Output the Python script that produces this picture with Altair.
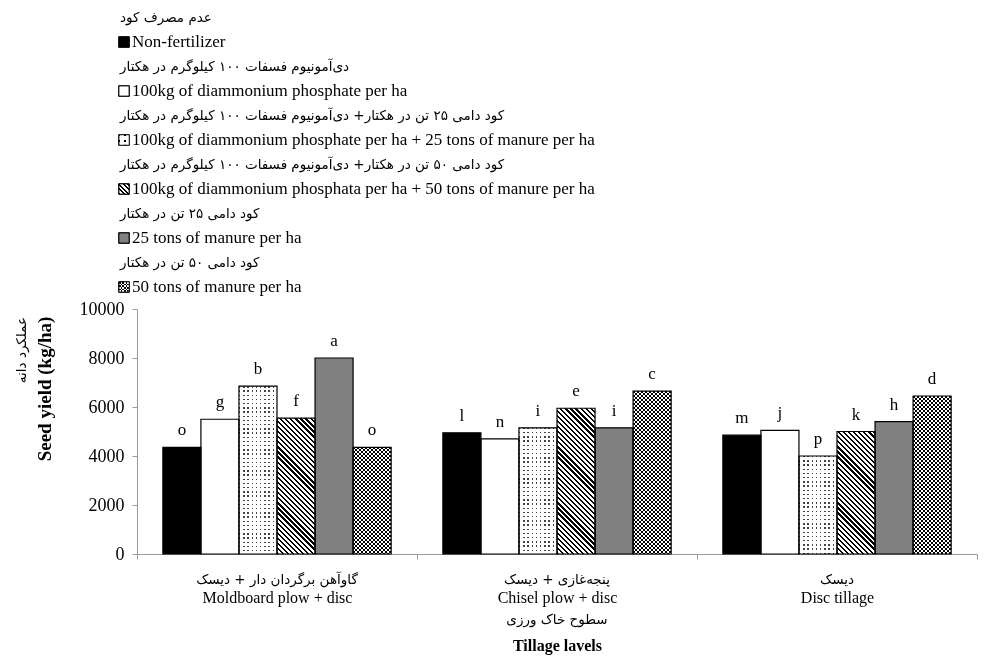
import math
import altair as alt

# ---------------- data ----------------
categories = ["Moldboard plow + disc", "Chisel plow + disc", "Disc tillage"]
categories_fa = ["گاوآهن برگردان دار + دیسک", "پنجه‌غازی + دیسک", "دیسک"]

treatments = [
    "Non-fertilizer",
    "100kg of diammonium phosphate per ha",
    "100kg of diammonium phosphate per ha + 25 tons of manure per ha",
    "100kg of diammonium phosphata per ha + 50 tons of manure per ha",
    "25 tons of manure per ha",
    "50 tons of manure per ha",
]
treatments_fa = [
    "عدم مصرف کود",
    "دی‌آمونیوم فسفات ۱۰۰ کیلوگرم در هکتار",
    "کود دامی ۲۵ تن در هکتار+ دی‌آمونیوم فسفات ۱۰۰ کیلوگرم در هکتار",
    "کود دامی ۵۰ تن در هکتار+ دی‌آمونیوم فسفات ۱۰۰ کیلوگرم در هکتار",
    "کود دامی ۲۵ تن در هکتار",
    "کود دامی ۵۰ تن در هکتار",
]

yield_moldboard = [4350, 5500, 6850, 5550, 8000, 4350]
yield_chisel = [4950, 4700, 5150, 5950, 5150, 6650]
yield_disc = [4850, 5050, 4000, 5000, 5400, 6450]

letters_moldboard = ["o", "g", "b", "f", "a", "o"]
letters_chisel = ["l", "n", "i", "e", "i", "c"]
letters_disc = ["m", "j", "p", "k", "h", "d"]

y_ticks = [0, 2000, 4000, 6000, 8000, 10000]

# ---------------- styling ----------------
PLOT_W = 840
PLOT_H = 245
Y_MAX = 10000
OUTER = 0.68
BAR_W = PLOT_W / 3 / (6 + 2 * OUTER)
SYM = 10.5
SERIF = "Liberation Serif"
FA_FONT = "DejaVu Sans"
FA_SIZE = 13.5


def stripe_stops(length_px, period, frac, dark, light):
    n = max(length_px / period, 1.0)
    stops = []
    k = 0
    while k / n < 1:
        a = round(k / n, 5)
        b = round(min((k + frac) / n, 1.0), 5)
        c = round(min((k + 1) / n, 1.0), 5)
        stops += [
            {"offset": a, "color": dark},
            {"offset": b, "color": dark},
            {"offset": b, "color": light},
            {"offset": c, "color": light},
        ]
        k += 1
    return stops


def horiz_lines(h, period, frac, dark="#000000", light="#ffffff"):
    return {"gradient": "linear", "x1": 0, "y1": 0, "x2": 0, "y2": 1,
            "stops": stripe_stops(h, period, frac, dark, light)}


def vert_lines(w, period, frac, dark="#000000", light="#ffffff"):
    return {"gradient": "linear", "x1": 0, "y1": 0, "x2": 1, "y2": 0,
            "stops": stripe_stops(w, period, frac, dark, light)}


def diag_lines(w, h, period, frac, dark="#000000", light="#ffffff"):
    s = (w + h) / (w * w + h * h)
    return {"gradient": "linear", "x1": 0, "y1": 1,
            "x2": round(s * w, 5), "y2": round(1 - s * h, 5),
            "stops": stripe_stops((w + h) / math.sqrt(2), period, frac, dark, light)}


def fills(ti, w, h):
    if ti == 0:
        return "#000000", None
    if ti == 1:
        return "#ffffff", None
    if ti == 2:  # dotted
        return (horiz_lines(h, 4.2, 0.32, "#444444", "#ffffff"),
                vert_lines(w, 4.2, 0.32, "#444444", "#ffffff"))
    if ti == 3:  # diagonal hatch
        return diag_lines(w, h, 3.6, 0.45), None
    if ti == 4:
        return "#808080", None
    # checker
    return horiz_lines(h, 4, 0.5), vert_lines(w, 4, 0.5)


bar_rows = []
for cat, vals, lets in zip(categories,
                           [yield_moldboard, yield_chisel, yield_disc],
                           [letters_moldboard, letters_chisel, letters_disc]):
    for ti, t in enumerate(treatments):
        v = vals[ti]
        fa, fb = fills(ti, BAR_W, v * PLOT_H / Y_MAX)
        bar_rows.append({"category": cat, "treatment": t, "t_index": ti,
                         "value": v, "letter": lets[ti], "fa": fa, "fb": fb})

leg_rows = []
for ti, (t, tfa) in enumerate(zip(treatments, treatments_fa)):
    if ti == 2:
        sa, sb = horiz_lines(SYM, 5.25, 0.3), vert_lines(SYM, 5.25, 0.3)
    elif ti == 3:
        sa, sb = diag_lines(SYM, SYM, 3.2, 0.45), None
    elif ti == 5:
        sa, sb = horiz_lines(SYM, 3.5, 0.5), vert_lines(SYM, 3.5, 0.5)
    else:
        sa, sb = fills(ti, SYM, SYM)
    leg_rows.append({"en": t, "fa": tfa, "t_index": ti, "sa": sa, "sb": sb})

cat_rows = [{"category": c, "fa": f} for c, f in zip(categories, categories_fa)]

bar_data = alt.Data(values=bar_rows)
leg_data = alt.Data(values=leg_rows)
cat_data = alt.Data(values=cat_rows)

# ---------------- encodings ----------------
X_ENC = alt.X(
    "category:N", sort=categories,
    scale=alt.Scale(paddingInner=0, paddingOuter=0),
    axis=alt.Axis(
        title="Tillage lavels", titleFont=SERIF, titleFontSize=16,
        titleFontWeight="bold", titleColor="black", titlePadding=32,
        labelFont=SERIF, labelFontSize=16, labelColor="black", labelAngle=0,
        labelPadding=30, tickBand="extent", tickSize=5, tickColor="#9a9a9a",
        domainColor="#9a9a9a", grid=False,
    ),
)
XOFF = alt.XOffset("treatment:N", sort=treatments,
                   scale=alt.Scale(paddingInner=0, paddingOuter=OUTER))
Y_SCALE = alt.Scale(domain=[0, Y_MAX], nice=False)
Y_AXIS = alt.Axis(values=y_ticks, format="d", labelFont=SERIF, labelFontSize=18,
                  labelColor="black", labelPadding=8, tickSize=5,
                  tickColor="#9a9a9a", domainColor="#9a9a9a", grid=False,
                  title=None)

base = alt.Chart(bar_data).encode(x=X_ENC, xOffset=XOFF)
Y_NOAX = alt.Y("value:Q", scale=Y_SCALE, axis=None)

bars_a = base.mark_bar(strokeWidth=0).encode(
    y=alt.Y("value:Q", scale=Y_SCALE, axis=Y_AXIS),
    fill=alt.Fill("fa:N", scale=None),
)
bars_dots = base.transform_filter("datum.t_index == 2").mark_bar(
    strokeWidth=0, blend="lighten").encode(y=Y_NOAX, fill=alt.Fill("fb:N", scale=None))
bars_check = base.transform_filter("datum.t_index == 5").mark_bar(
    strokeWidth=0, blend="difference").encode(y=Y_NOAX, fill=alt.Fill("fb:N", scale=None))
bars_outline = base.mark_bar(fillOpacity=0, stroke="black", strokeWidth=1.2).encode(y=Y_NOAX)
letters = base.mark_text(baseline="bottom", dy=-8, font=SERIF, fontSize=17,
                         color="black").encode(y=Y_NOAX, text="letter:N")

fa_labels = alt.Chart(cat_data).mark_text(
    font=FA_FONT, fontSize=FA_SIZE, baseline="middle", color="black"
).encode(x=X_ENC, y=alt.value(PLOT_H + 26), text="fa:N")

fa_xtitle = alt.Chart(alt.Data(values=[{"t": "سطوح خاک ورزی"}])).mark_text(
    font=FA_FONT, fontSize=FA_SIZE, baseline="middle", color="black"
).encode(x=alt.value(PLOT_W / 2), y=alt.value(PLOT_H + 66), text="t:N")

en_ytitle = alt.Chart(alt.Data(values=[{"t": "Seed yield (kg/ha)"}])).mark_text(
    font=SERIF, fontSize=19, fontWeight="bold", angle=270, baseline="middle",
    color="black").encode(x=alt.value(-92), y=alt.value(80), text="t:N")

fa_ytitle = alt.Chart(alt.Data(values=[{"t": "عملکرد دانه"}])).mark_text(
    font=FA_FONT, fontSize=FA_SIZE, angle=270, baseline="middle",
    color="black").encode(x=alt.value(-115), y=alt.value(41), text="t:N")

LEG_Y = alt.Y("en:N", sort=treatments, axis=None,
              scale=alt.Scale(type="point", domain=treatments,
                              range=[-267, -22], padding=0))
leg = alt.Chart(leg_data).encode(y=LEG_Y)
leg_en = leg.mark_text(align="left", baseline="middle", font=SERIF, fontSize=17,
                       color="black").encode(x=alt.value(-5), text="en:N")
leg_fa = leg.mark_text(align="left", baseline="middle", dy=-24, font=FA_FONT,
                       fontSize=FA_SIZE, color="black").encode(x=alt.value(-17), text="fa:N")
leg_sym = leg.mark_square(size=SYM * SYM, filled=True, stroke="black",
                          strokeWidth=0.8, opacity=1).encode(
    x=alt.value(-13), fill=alt.Fill("sa:N", scale=None))
leg_sym_dots = leg.transform_filter("datum.t_index == 2").mark_square(
    size=SYM * SYM, filled=True, strokeWidth=0, blend="lighten", opacity=1).encode(
    x=alt.value(-13), fill=alt.Fill("sb:N", scale=None))
leg_sym_check = leg.transform_filter("datum.t_index == 5").mark_square(
    size=SYM * SYM, filled=True, strokeWidth=0, blend="difference", opacity=1).encode(
    x=alt.value(-13), fill=alt.Fill("sb:N", scale=None))
leg_sym_outline = leg.mark_square(size=SYM * SYM, filled=False, stroke="black",
                                  strokeWidth=0.9, opacity=1).encode(x=alt.value(-13))

chart = alt.layer(
    bars_a, bars_dots, bars_check, bars_outline, letters,
    fa_labels, fa_xtitle, en_ytitle, fa_ytitle,
    leg_sym, leg_sym_dots, leg_sym_check, leg_sym_outline, leg_en, leg_fa,
).resolve_scale(y="independent").properties(
    width=PLOT_W, height=PLOT_H,
    padding={"left": 7, "top": 3, "right": 0, "bottom": 4},
    background="white",
).configure_view(stroke=None)

chart.save("out.html", embed_options={"renderer": "svg", "actions": False})
